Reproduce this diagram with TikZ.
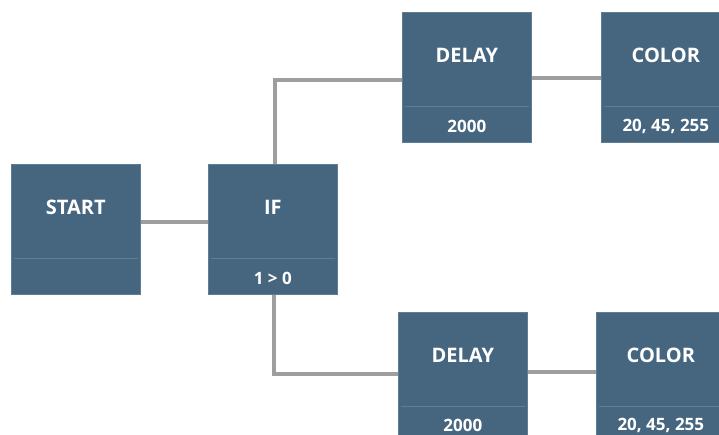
\documentclass[tikz,border=0pt]{standalone}
\usepackage{fontspec}
\setmainfont{Open Sans}
\definecolor{boxblue}{HTML}{46667F}
\definecolor{boxline}{HTML}{5E7E96}
\definecolor{wire}{HTML}{9E9E9E}
\begin{document}
\begin{tikzpicture}[x=1pt,y=-1pt,
  block/.style={rectangle, fill=boxblue, draw=boxline, line width=0.6pt,
    minimum width=129pt, minimum height=130pt, anchor=north west, inner sep=0pt},
  title/.style={text=white, font=\fontsize{20}{20}\selectfont\bfseries, anchor=center},
  value/.style={text=white, font=\fontsize{17}{17}\selectfont\bfseries, anchor=center},
  wireline/.style={draw=wire, line width=3.5pt}]
  \useasboundingbox (0,0) rectangle (719,434);
  \clip (0,0) rectangle (719,434);

  % wire bend and end points
  \coordinate (w1) at (140,222);
  \coordinate (w2) at (208,222);
  \coordinate (up) at (275,164);
  \coordinate (upc) at (275,80);
  \coordinate (dA) at (402,80);
  \coordinate (dAr) at (531,78);
  \coordinate (cA) at (601,78);
  \coordinate (dn) at (274,294);
  \coordinate (dnc) at (274,374);
  \coordinate (dB) at (398,374);
  \coordinate (dBr) at (527,372);
  \coordinate (cB) at (596,372);

  % blocks
  \node[block] (start) at (11,164) {};
  \node[block] (if) at (208,164) {};
  \node[block] (delayA) at (402,12) {};
  \node[block] (colorA) at (601,12) {};
  \node[block] (delayB) at (398,312) {};
  \node[block] (colorB) at (596,312) {};

  % wires
  \draw[wireline] (start.east |- w1) -- (if.west |- w2);
  \draw[wireline] (if.north -| up) -- (upc) -- (delayA.west |- dA);
  \draw[wireline] (delayA.east |- dAr) -- (colorA.west |- cA);
  \draw[wireline] (if.south -| dn) -- (dnc) -- (delayB.west |- dB);
  \draw[wireline] (delayB.east |- dBr) -- (colorB.west |- cB);

  % dividers between title and value areas
  \foreach \b in {start,if,delayA,colorA,delayB,colorB}{
    \draw[boxline, line width=0.8pt] ([xshift=3pt,yshift=36pt]\b.south west) -- ([xshift=-3pt,yshift=36pt]\b.south east);
  }

  % labels
  \node[title] (tStart) at ([yshift=-43.5pt]start.north) {START};
  \node[title] (tIf) at ([yshift=-43.5pt]if.north) {IF};
  \node[value] (vIf) at ([yshift=-114pt]if.north) {1 > 0};
  \node[title] (tDelayA) at ([yshift=-43.5pt]delayA.north) {DELAY};
  \node[value] (vDelayA) at ([yshift=-114pt]delayA.north) {2000};
  \node[title] (tColorA) at ([yshift=-43.5pt]colorA.north) {COLOR};
  \node[value] (vColorA) at ([yshift=-114pt]colorA.north) {20, 45, 255};
  \node[title] (tDelayB) at ([yshift=-43.5pt]delayB.north) {DELAY};
  \node[value] (vDelayB) at ([yshift=-113pt]delayB.north) {2000};
  \node[title] (tColorB) at ([yshift=-43.5pt]colorB.north) {COLOR};
  \node[value] (vColorB) at ([yshift=-113pt]colorB.north) {20, 45, 255};
\end{tikzpicture}
\end{document}
